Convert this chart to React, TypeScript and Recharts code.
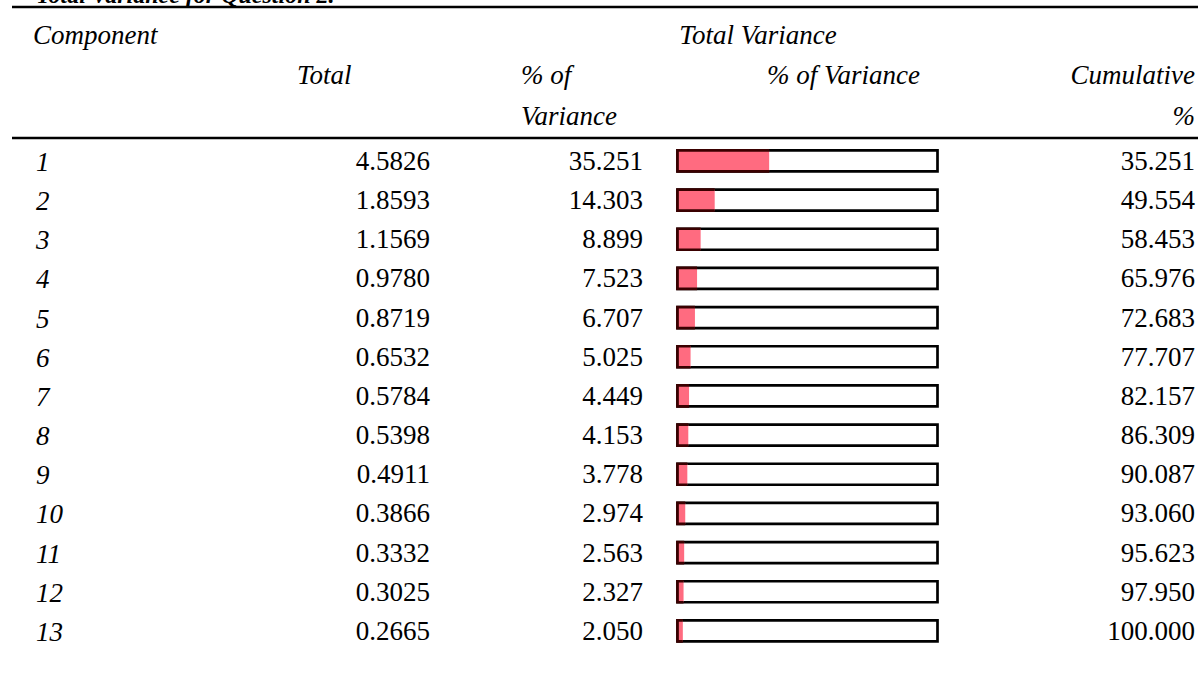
import React from 'react';
import { BarChart, Bar, XAxis, YAxis, LabelList } from 'recharts';

const components = ['1', '2', '3', '4', '5', '6', '7', '8', '9', '10', '11', '12', '13'];
const totals = [4.5826, 1.8593, 1.1569, 0.978, 0.8719, 0.6532, 0.5784, 0.5398, 0.4911, 0.3866, 0.3332, 0.3025, 0.2665];
const pctVariance = [35.251, 14.303, 8.899, 7.523, 6.707, 5.025, 4.449, 4.153, 3.778, 2.974, 2.563, 2.327, 2.05];
const cumulative = [35.251, 49.554, 58.453, 65.976, 72.683, 77.707, 82.157, 86.309, 90.087, 93.06, 95.623, 97.95, 100.0];

const data = components.map((c, i) => ({
  component: c,
  total: totals[i],
  pct: pctVariance[i],
  cum: cumulative[i],
}));

const FONT = '"Liberation Serif", "Times New Roman", serif';
const FS = 27;

const RowLabel = (props: any) => {
  const { y, height, value } = props;
  const row = data.find((d) => d.component === String(value));
  if (!row) return null;
  const base = y + height / 2 + 9;
  return (
    <g fontFamily={FONT} fontSize={FS} fill="#000">
      <text x={36} y={base + 1} fontStyle="italic" textAnchor="start">{row.component}</text>
      <text x={430} y={base} textAnchor="end">{row.total.toFixed(4)}</text>
      <text x={643} y={base} textAnchor="end">{row.pct.toFixed(3)}</text>
      <text x={1195} y={base} textAnchor="end">{row.cum.toFixed(3)}</text>
    </g>
  );
};

const BarShape = (props: any) => {
  const { x, y, width, height } = props;
  return (
    <g>
      <rect x={x} y={y} width={width} height={height} fill="#FF6B80" />
      <path
        d={`M${x + width},${y} H${x} V${y + height} H${x + width}`}
        fill="none"
        stroke="#3a0000"
        strokeWidth={2.7}
      />
    </g>
  );
};

export default function App() {
  return (
    <div style={{ position: 'absolute', left: 0, top: 0, width: 1198, height: 688, background: '#fff' }}>
      <BarChart
        width={1198}
        height={688}
        data={data}
        layout="vertical"
        margin={{ top: 141.4, right: 260.5, bottom: 37.4, left: 677.5 }}
      >
        <XAxis type="number" domain={[0, 100]} hide />
        <YAxis type="category" dataKey="component" hide />
        <Bar
          dataKey="pct"
          barSize={21}
          isAnimationActive={false}
          background={{ fill: '#fff', stroke: '#000', strokeWidth: 2.7 }}
          shape={<BarShape />}
        >
          <LabelList dataKey="component" content={<RowLabel />} />
        </Bar>
      </BarChart>
      <svg
        width={1198}
        height={688}
        style={{ position: 'absolute', left: 0, top: 0, pointerEvents: 'none' }}
        fontFamily={FONT}
        fontSize={FS}
      >
        <text x={36} y={3} fontStyle="italic" fontWeight="bold" fontSize={24}>Total Variance for Question 2.</text>
        <line x1={12} x2={1198} y1={7} y2={7} stroke="#000" strokeWidth={2.5} />
        <text x={33} y={44} fontStyle="italic">Component</text>
        <text x={758} y={44} fontStyle="italic" textAnchor="middle">Total Variance</text>
        <text x={297} y={84} fontStyle="italic">Total</text>
        <text x={521} y={84} fontStyle="italic">% of</text>
        <text x={521} y={125} fontStyle="italic">Variance</text>
        <text x={767} y={84} fontStyle="italic">% of Variance</text>
        <text x={1195} y={84} fontStyle="italic" textAnchor="end">Cumulative</text>
        <text x={1195} y={125} fontStyle="italic" textAnchor="end">%</text>
        <line x1={12} x2={1198} y1={138} y2={138} stroke="#000" strokeWidth={2.5} />
      </svg>
    </div>
  );
}
